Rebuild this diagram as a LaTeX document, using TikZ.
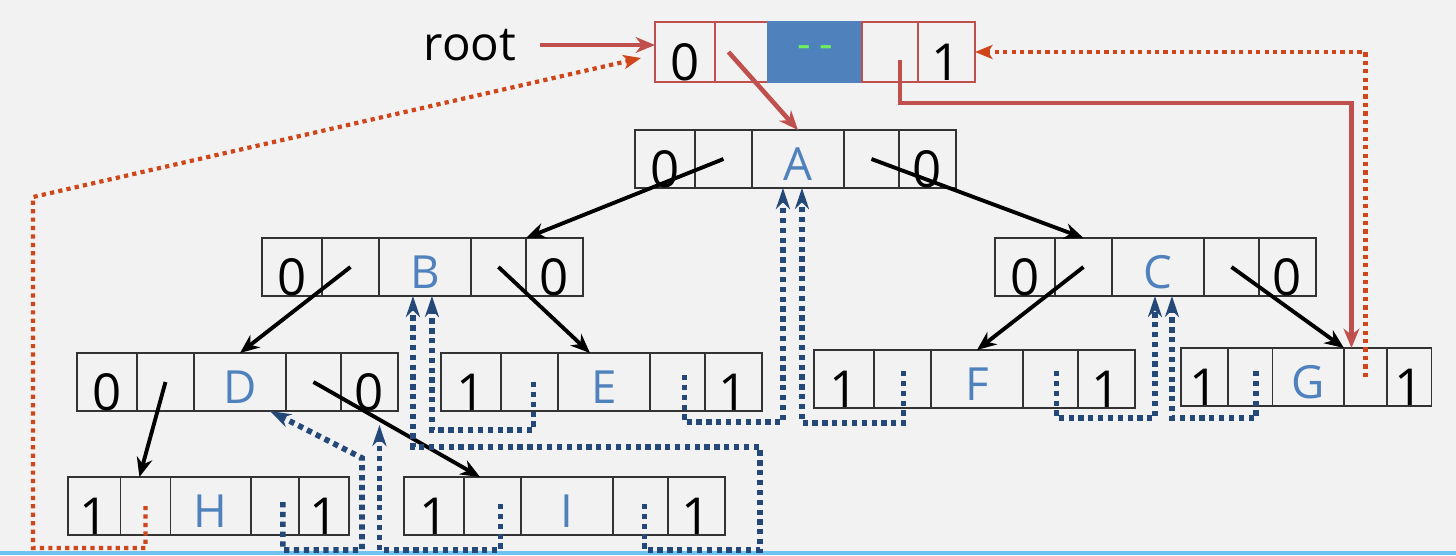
\documentclass[tikz,border=0pt]{standalone}
\usepackage{fontspec}
\setmainfont{Open Sans}
\usetikzlibrary{arrows.meta,positioning}
\definecolor{treeblue}{RGB}{79,129,189}
\definecolor{threadblue}{RGB}{36,72,120}
\definecolor{headred}{RGB}{192,80,77}
\definecolor{dotred}{RGB}{206,70,26}
\definecolor{bggray}{RGB}{242,242,242}
\definecolor{dashgreen}{RGB}{110,240,90}
\definecolor{edgeblue}{RGB}{110,195,240}
\tikzset{
  cell/.style={draw=black!80, line width=0.8pt, minimum height=1.16cm, inner sep=0pt, outer sep=0pt},
  flagcell/.style={cell, font=\fontsize{29}{30}\selectfont, text height=31.9pt, text depth=0pt},
  datacell/.style={cell, text=treeblue, font=\fontsize{26}{28}\selectfont, text height=24.5pt, text depth=0pt},
  headcell/.style={flagcell, draw=headred, minimum height=1.2cm},
  treelink/.style={-{Stealth[length=11pt,width=9pt,inset=3.5pt]}, line width=2.2pt, draw=black},
  headptr/.style={-{Stealth[length=11pt,width=9pt,inset=3.5pt]}, line width=2.6pt, draw=headred},
  thread/.style={-{Stealth[length=12pt,width=8pt]}, line width=3.2pt, draw=threadblue, dash pattern=on 3pt off 2.6pt},
  headthread/.style={-{Stealth[length=10pt,width=8pt,inset=2.5pt]}, line width=2.4pt, draw=dotred, dash pattern=on 2.4pt off 2.4pt}
}
% one record: name, top left, left tag, data, right tag, width factor
\newcommand{\recnode}[6]{%
  \node[flagcell, minimum width=#6*1.2cm, anchor=north west] (#1-l) at (#2) {#3};
  \node[cell, minimum width=#6*1.14cm, right=0pt of #1-l] (#1-lp) {};
  \node[datacell, minimum width=#6*1.84cm, right=0pt of #1-lp] (#1-d) {#4};
  \node[cell, minimum width=#6*1.1cm, right=0pt of #1-d] (#1-rp) {};
  \node[flagcell, minimum width=#6*1.14cm, right=0pt of #1-rp] (#1-r) {#5};
}

\begin{document}
\begin{tikzpicture}[x=0.02cm, y=-0.02cm]
  \fill[bggray] (0,0) rectangle (1456,555);
  \useasboundingbox (0,0) rectangle (1456,555);
  \fill[edgeblue] (0,551) rectangle (1456,555);

  % head node
  \node[font=\fontsize{27}{30}\selectfont] (root) at (470,45) {root};
  \node[headcell, minimum width=1.2cm, anchor=north west] (hd-l) at (655,22) {0};
  \node[headcell, minimum width=1.06cm, right=0pt of hd-l] (hd-lp) {};
  \node[headcell, minimum width=1.88cm, right=0pt of hd-lp, fill=treeblue, draw=treeblue,
        text=dashgreen, font=\fontsize{24}{26}\selectfont, text height=, text depth=] (hd-d) {-\hspace{5pt}-};
  \node[headcell, minimum width=1.12cm, right=0pt of hd-d] (hd-rp) {};
  \node[headcell, minimum width=1.14cm, right=0pt of hd-rp] (hd-r) {1};

  % tree
  \recnode{A}{635,130}{0}{A}{0}{1}
  \recnode{B}{262,238}{0}{B}{0}{1}
  \recnode{C}{995,238}{0}{C}{0}{1}
  \recnode{D}{77,353}{0}{D}{0}{1}
  \recnode{E}{441,353}{1}{E}{1}{1}
  \recnode{F}{814,350}{1}{F}{1}{1}
  \recnode{G}{1181,348}{1}{G}{1}{0.78}
  \recnode{H}{68,477}{1}{H}{1}{0.875}
  \recnode{I}{404,477}{1}{I}{1}{1}

  % child links
  \draw[treelink] (A-lp.center) -- (B-rp.north east);
  \draw[treelink] (A-rp.center) -- (C-lp.north);
  \draw[treelink] (B-lp.center) -- (D-d.north);
  \draw[treelink] (B-rp.center) -- ([shift={(32,0)}]E-d.north west);
  \draw[treelink] (C-lp.center) -- (F-d.north);
  \draw[treelink] (C-rp.center) -- (G-d.north east);
  \draw[treelink] (D-lp.center) -- ([shift={(-6,0)}]H-lp.north);
  \draw[treelink] (D-rp.center) -- ([shift={(16,0)}]I-lp.north west);

  % head pointers
  \draw[headptr, shorten <=10pt] (root.east) -- (root.east -| hd-l.west);
  \draw[headptr] ([shift={(-13,0)}]hd-lp.center) -- (A-d.north);
  \draw[headptr] ([shift={(10,8)}]hd-rp.center) -- ++(0,43) -| ([shift={(-14,0)}]G-rp.north);
  \draw[headthread] (H-lp.center) -- ++(0,42) -| (33,197) -- ([shift={(-14,6)}]hd-l.west);
  \draw[headthread] (G-rp.center) |- (hd-r.east);

  % threads
  \draw[thread] ([shift={(8,-4)}]H-rp.center) -- ++(0,48) -| (362,458) -- ([shift={(30,0)}]D-d.south);
  \draw[thread] ([shift={(8,-2)}]I-lp.center) -- ++(0,46) -| ([shift={(10,14)}]D-r.south);
  \draw[thread] ([shift={(4,-2)}]I-rp.center) -- ++(0,46) -| (760,447) -| ([shift={(-12,0)}]B-d.south);
  \draw[thread] ([shift={(4,0)}]E-lp.center) -- ++(0,48) -| ([shift={(7,0)}]B-d.south);
  \draw[thread] ([shift={(7,-7)}]E-rp.center) -- ++(0,47) -| ([shift={(-15,0)}]A-d.south);
  \draw[thread] ([shift={(1,-8)}]F-lp.center) -- ++(0,52) -| ([shift={(4,0)}]A-d.south);
  \draw[thread] ([shift={(6,-8)}]F-rp.center) -- ++(0,47) -| ([shift={(-3,0)}]C-d.south);
  \draw[thread] ([shift={(6,-6)}]G-lp.center) -- ++(0,47) -| ([shift={(14,0)}]C-d.south);
\end{tikzpicture}
\end{document}
